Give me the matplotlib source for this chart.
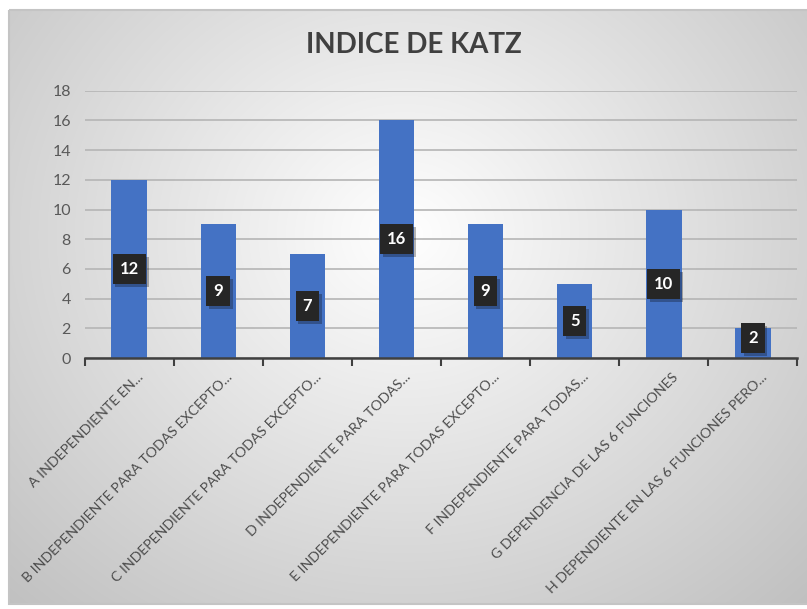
import numpy as np
import matplotlib
matplotlib.use("Agg")
import matplotlib.pyplot as plt
import matplotlib.patheffects as pe
import matplotlib.transforms as mtransforms
from matplotlib.patches import Rectangle

categorias = [
    "A INDEPENDIENTE EN...",
    "B INDEPENDIENTE PARA TODAS EXCEPTO...",
    "C INDEPENDIENTE PARA TODAS EXCEPTO...",
    "D INDEPENDIENTE PARA TODAS...",
    "E INDEPENDIENTE PARA TODAS EXCEPTO...",
    "F INDEPENDIENTE PARA TODAS...",
    "G DEPENDENCIA DE LAS 6 FUNCIONES",
    "H DEPENDIENTE EN LAS 6 FUNCIONES PERO...",
]
valores = [12, 9, 7, 16, 9, 5, 10, 2]

plt.rcParams['font.family'] = ['Lato', 'DejaVu Sans']

fig = plt.figure(figsize=(8.07, 6.09), dpi=100)

# fondo con degradado radial
bg = fig.add_axes([0, 0, 1, 1])
bg.set_xlim(0, 807)
bg.set_ylim(609, 0)
bg.axis('off')
yy, xx = np.mgrid[0:609, 0:807]
d = np.sqrt(((xx - 400) / 520) ** 2 + ((yy - 230) / 470) ** 2)
g = 1 - 0.22 * np.clip(d, 0, 1.2)
img = np.dstack([g, g, g])
bg.imshow(img, extent=(9, 807, 604, 10), zorder=0, aspect='auto')
bg.add_patch(Rectangle((9, 10), 805, 594, fill=False, edgecolor='#c4c4c4', lw=1.5))

ax = fig.add_axes([0.105, 0.412, 0.883, 0.439])
ax.patch.set_alpha(0)
x = np.arange(len(categorias))
ax.bar(x, valores, width=0.4, color='#4472c4', zorder=3)
ax.set_xlim(-0.5, len(categorias) - 0.5)
ax.set_ylim(0, 18)
ax.set_yticks(range(0, 19, 2))
ax.grid(axis='y', color='#b5b5b5', lw=1.2, zorder=0)
for s in ['top', 'right', 'left']:
    ax.spines[s].set_visible(False)
ax.spines['bottom'].set_color('#404040')
ax.spines['bottom'].set_linewidth(1.8)
ax.spines['bottom'].set_zorder(4)
ax.tick_params(axis='y', length=0, labelsize=11.5, labelcolor='#595959', pad=10)
ax.set_xticks(np.arange(-0.5, len(categorias)))
ax.set_xticklabels([])
ax.set_xticks(x, minor=True)
ax.set_xticklabels(categorias, minor=True, rotation=45, ha='right',
                   rotation_mode='anchor', fontsize=10.2, color='#4d4d4d')
ax.tick_params(axis='x', which='major', length=6, width=1.5, color='#404040', direction='out')
ax.tick_params(axis='x', which='minor', length=0, pad=9)
desplaz = mtransforms.ScaledTranslation(8 / 100, 0, fig.dpi_scale_trans)
for lbl in ax.get_xticklabels(minor=True):
    lbl.set_transform(lbl.get_transform() + desplaz)

for xi, v in zip(x, valores):
    t = ax.text(xi, max(v / 2, 1.35), str(v), ha='center', va='center', color='white',
                fontsize=12, fontweight='bold', zorder=5,
                bbox=dict(boxstyle='square,pad=0.42', facecolor='#262626', edgecolor='none'))
    t.get_bbox_patch().set_path_effects([pe.SimplePatchShadow(offset=(2, -2), alpha=0.3),
                                         pe.Normal()])

fig.text(0.513, 0.926, "INDICE DE KATZ", ha='center', va='center', fontsize=20,
         fontweight='bold', color='#404040')

fig.savefig("out.png", dpi=100)
